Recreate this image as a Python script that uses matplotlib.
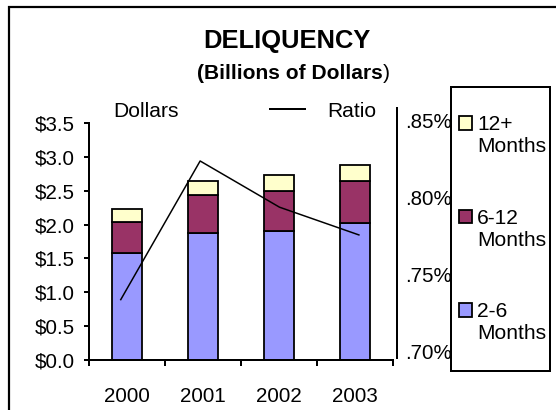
import matplotlib
matplotlib.use('Agg')
import matplotlib.pyplot as plt
import numpy as np
from matplotlib.patches import Rectangle, Patch
from matplotlib.lines import Line2D
from matplotlib.legend_handler import HandlerPatch

years = ['2000', '2001', '2002', '2003']
months_2_6 = [1.58, 1.87, 1.905, 2.02]
months_6_12 = [0.46, 0.57, 0.595, 0.62]
months_12_plus = [0.195, 0.21, 0.23, 0.24]
ratio = [0.734, 0.824, 0.794, 0.776]
dollar_ticks = [0, 0.5, 1.0, 1.5, 2.0, 2.5, 3.0, 3.5]
ratio_ticks = [0.70, 0.75, 0.80, 0.85]
ratio_labels = ['.70%', '.75%', '.80%', '.85%']

W, H = 556, 410
plt.rcParams['font.family'] = ['Liberation Sans', 'DejaVu Sans']
fig = plt.figure(figsize=(W / 72, H / 72), dpi=72)


def box(l, t, r, b):
    # pixel edges -> figure fraction rect
    return [l / W, 1 - b / H, (r - l) / W, (b - t) / H]


ax = fig.add_axes(box(89, 123, 393, 360))
x = np.arange(len(years))
bot2 = np.array(months_2_6)
bot3 = bot2 + np.array(months_6_12)
b1 = ax.bar(x, months_2_6, 0.4, color='#9999FF', edgecolor='black', lw=1.8)
b2 = ax.bar(x, months_6_12, 0.4, bottom=bot2, color='#993366', edgecolor='black', lw=1.8)
b3 = ax.bar(x, months_12_plus, 0.4, bottom=bot3, color='#FFFFCC', edgecolor='black', lw=1.8)
ax.set_xlim(-0.5, 3.5)
ax.set_ylim(0, 3.5)
ax.set_yticks(dollar_ticks)
ax.set_yticklabels(['\\$%.1f' % v for v in dollar_ticks])
ax.tick_params(axis='y', direction='out', length=5, width=2, pad=9, labelsize=20.5)
ax.set_xticks(x)
ax.set_xticklabels(years)
ax.tick_params(axis='x', which='major', length=0, pad=27, labelsize=20.5)
ax.set_xticks(np.arange(-0.5, 4, 1), minor=True)
ax.tick_params(axis='x', which='minor', direction='out', length=6, width=2)
for s in ['top', 'right']:
    ax.spines[s].set_visible(False)
for s in ['left', 'bottom']:
    ax.spines[s].set_linewidth(2)

# ratio axis
ax2 = fig.add_axes(box(89, 108, 397, 358))
ax2.patch.set_visible(False)
ax2.plot(x, ratio, color='black', lw=1.5)
ax2.set_xlim(-0.40, 3.48)
ax2.set_ylim(0.6961, 0.8584)
ax2.set_yticks(ratio_ticks)
ax2.set_yticklabels(ratio_labels)
ax2.yaxis.tick_right()
ax2.tick_params(axis='y', length=0, pad=8, labelsize=20.5)
ax2.xaxis.set_visible(False)
for s in ['left', 'top', 'bottom']:
    ax2.spines[s].set_visible(False)
ax2.spines['right'].set_linewidth(2)

# titles
fig.text(286.5 / W, 1 - 48 / H, 'DELIQUENCY', ha='center', va='baseline',
         fontsize=25.5, fontweight='bold')
t = fig.text(197 / W, 1 - 79 / H, '(Billions of Dollars', ha='left', va='baseline',
             fontsize=21, fontweight='bold')
ax.annotate(')', xy=(1, 0), xycoords=t, ha='left', va='bottom', fontsize=21,
            annotation_clip=False)

# header labels
fig.text(113 / W, 1 - 117 / H, 'Dollars', ha='left', va='baseline', fontsize=21)
fig.add_artist(Line2D([270 / W, 305 / W], [1 - 109 / H] * 2, color='black', lw=2))
fig.text(327 / W, 1 - 117 / H, 'Ratio', ha='left', va='baseline', fontsize=21)


def top_square(legend, orig_handle, xdescent, ydescent, width, height, fontsize):
    return Rectangle((-xdescent, -ydescent + 12.5), width, height)


fig.legend(handles=[b3[0], b2[0], b1[0]],
           labels=['12+\nMonths', '6-12\nMonths', '2-6\nMonths'],
           loc='upper left', bbox_to_anchor=(459 / W, 1 - 115 / H),
           frameon=False, fontsize=21, handlelength=13 / 21, handleheight=13 / 21,
           handletextpad=5 / 21, labelspacing=2.5, borderpad=0, borderaxespad=0,
           handler_map={Patch: HandlerPatch(patch_func=top_square)})
fig.add_artist(Rectangle((451 / W, 1 - 371 / H), 99 / W, 284 / H, transform=fig.transFigure,
                         fill=False, ec='black', lw=2))

# outer frame
fig.add_artist(Rectangle((9 / W, -0.1), 1.2, 1 - 6.7 / H + 0.1, transform=fig.transFigure,
                         fill=False, ec='black', lw=2.2))

fig.savefig('out.png', dpi=72)
